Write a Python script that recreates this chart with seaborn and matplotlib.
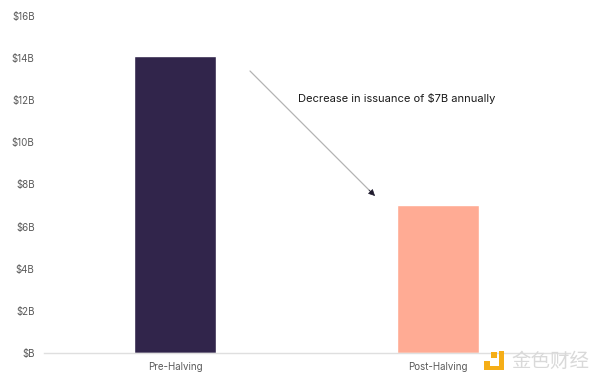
import matplotlib
matplotlib.use("Agg")
import matplotlib.pyplot as plt
from matplotlib.patches import Rectangle
import pandas as pd
import seaborn as sns

categories = ["Pre-Halving", "Post-Halving"]
issuance = [14.1, 7.05]
bar_colors = ["#31254b", "#ffab94"]
y_ticks = [0, 2, 4, 6, 8, 10, 12, 14, 16]
y_labels = ["$B", "$2B", "$4B", "$6B", "$8B", "$10B", "$12B", "$14B", "$16B"]
annotation = "Decrease in issuance of $7B annually"
watermark = "金色财经"

W, H = 600, 382
sns.set_theme(style="white")
plt.rcParams["font.family"] = ["Inter", "DejaVu Sans"]

fig = plt.figure(figsize=(W / 100, H / 100), dpi=100, facecolor="white")
ax = fig.add_axes([43.7 / W, 1 - 353 / H, (569.8 - 43.7) / W, (353 - 16) / H])

df = pd.DataFrame({"period": categories, "issuance": issuance})
sns.barplot(data=df, x="period", y="issuance", hue="period", palette=bar_colors,
            dodge=False, legend=False, width=0.312, saturation=1, ax=ax)

ax.set_xlim(-0.5, 1.5)
ax.set_ylim(0, 16)
ax.set_yticks(y_ticks, y_labels)
ax.set_xlabel("")
ax.set_ylabel("")
for s in ["top", "right", "left"]:
    ax.spines[s].set_visible(False)
ax.spines["bottom"].set_color("#dfdfdf")
ax.spines["bottom"].set_linewidth(1)
ax.tick_params(axis="both", length=0, labelsize=7, labelcolor="#5a5a5a")
ax.tick_params(axis="x", pad=6.5)
ax.tick_params(axis="y", pad=6.5)


def px(x, y):
    return (x / W, 1 - y / H)


# Arrow: grey shaft, dark head
ax.annotate("", xy=px(372, 193), xytext=px(250, 71),
            xycoords="figure fraction", textcoords="figure fraction",
            arrowprops=dict(arrowstyle="-", color="#b4b4b4", lw=0.9,
                            shrinkA=0, shrinkB=0))
ax.annotate("", xy=px(375, 196), xytext=px(369, 190),
            xycoords="figure fraction", textcoords="figure fraction",
            arrowprops=dict(arrowstyle="-|>,head_length=0.4,head_width=0.2",
                            color="#1f1b2e", lw=0.5, shrinkA=0, shrinkB=0,
                            mutation_scale=10))

fig.text(*px(298, 98), annotation, fontsize=8, color="#1a1a1a",
         va="center", ha="left", family=["Inter", "DejaVu Sans"])

# Watermark logo and text
logo = "#f5ae17"
for (x0, y0, x1, y1) in [(484, 361, 490, 367), (491, 352, 497, 358),
                         (499, 351, 504, 370), (484, 366, 504, 370)]:
    fig.add_artist(Rectangle(px(x0, y1), (x1 - x0) / W, (y1 - y0) / H,
                             transform=fig.transFigure, color=logo, lw=0))
fig.text(*px(511, 361), watermark, fontsize=14, color="#d9d9d9",
         va="center", ha="left", family=["Noto Sans CJK SC", "DejaVu Sans"])

fig.savefig("out.png", dpi=100, facecolor="white")
